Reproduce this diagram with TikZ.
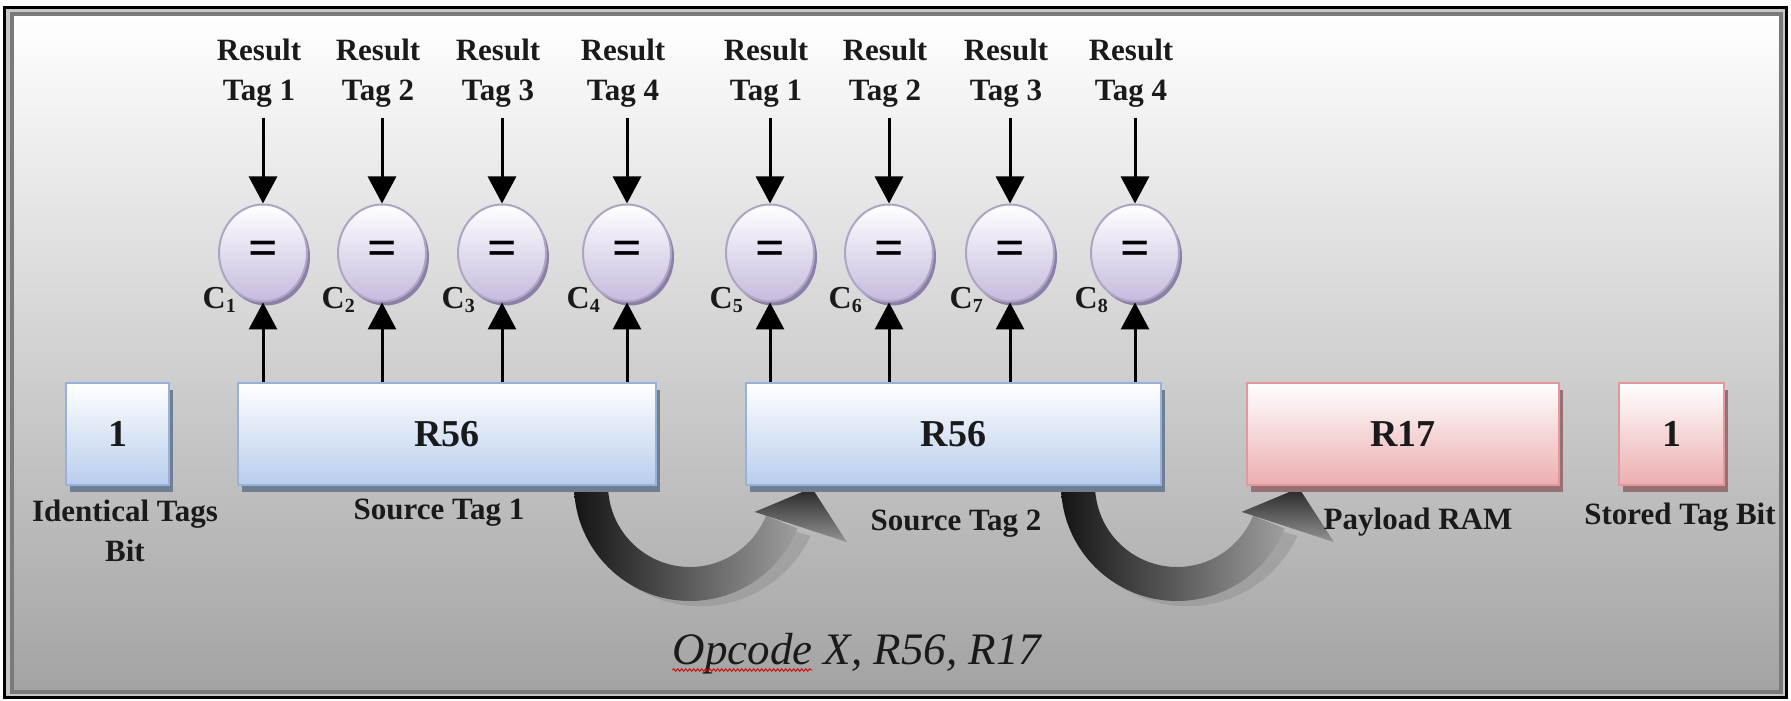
\documentclass[tikz,border=0pt]{standalone}
\usepackage{fontspec}
\setmainfont{Liberation Serif}
\usetikzlibrary{arrows.meta,shapes.geometric,decorations.pathmorphing,shadows}

% register boxes
\definecolor{boxblue}{RGB}{184,205,236}
\definecolor{boxblueedge}{RGB}{150,177,218}
\definecolor{boxblueshadow}{RGB}{112,126,146}
\definecolor{boxpink}{RGB}{236,174,176}
\definecolor{boxpinkedge}{RGB}{226,152,156}
\definecolor{boxpinkshadow}{RGB}{150,112,114}
% comparators
\definecolor{cmpfill}{RGB}{198,186,222}
\definecolor{cmpedge}{RGB}{174,164,196}
\definecolor{cmpshadow}{RGB}{140,126,166}
\definecolor{inktext}{RGB}{26,26,26}

\newcommand\dgTag{\fontsize{31}{40}\selectfont\bfseries}
\newcommand\dgReg{\fontsize{38}{44}\selectfont\bfseries}
\newcommand\dgEq{\fontsize{52}{52}\selectfont\bfseries}
\newcommand\dgOp{\fontsize{45}{50}\selectfont\itshape}
\newcommand\dgCmp{\fontsize{32}{32}\selectfont\bfseries}
\newcommand\dgSub{\fontsize{20}{20}\selectfont\bfseries}

% thick U-turn arrow under a register, centred at x = #1
\newcommand\dgUturn[1]{%
  \begin{scope}[shift={(#1,216)}]
    % soft lower halo
    \fill[black!45, opacity=0.45]
      (184:112) arc[start angle=184, end angle=335, radius=122]
      -- (335:100) arc[start angle=335, end angle=184, radius=90] -- cycle;
    % band
    \shade[left color=black!92, middle color=black!72, right color=black!38]
      (180:116) arc[start angle=180, end angle=338, radius=116]
      -- (338:82) arc[start angle=338, end angle=180, radius=82] -- cycle;
    % head
    \shade[top color=black!85, bottom color=black!42]
      (340:167) -- (358.6:122) -- (337.4:70) -- cycle;
  \end{scope}}

\tikzset{
  reg/.style={rectangle, inner sep=0pt, line width=2.5pt, minimum height=102pt,
    font=\dgReg, text=inktext},
  bluereg/.style={reg, draw=boxblueedge, top color=white, bottom color=boxblue,
    drop shadow={shadow xshift=4pt, shadow yshift=-7pt, fill=boxblueshadow, opacity=1}},
  pinkreg/.style={reg, draw=boxpinkedge, top color=white, bottom color=boxpink,
    drop shadow={shadow xshift=4pt, shadow yshift=-7pt, fill=boxpinkshadow, opacity=1}},
  cmp/.style={ellipse, minimum width=88pt, minimum height=97pt, inner sep=0pt,
    draw=cmpedge, line width=2pt, top color=white, bottom color=cmpfill,
    drop shadow={shadow xshift=3pt, shadow yshift=-4pt, fill=cmpshadow, opacity=1},
    font=\dgEq, text=black},
  tagtxt/.style={inner sep=0pt, align=center, font=\dgTag, text=inktext},
  cmplbl/.style={inner sep=0pt, font=\dgCmp, text=inktext},
  lbl/.style={inner sep=0pt, font=\dgTag, text=inktext},
  optxt/.style={inner sep=0pt, font=\dgOp, text=inktext},
  dn/.style={line width=3pt, -{Triangle[width=28pt,length=27pt]}},
}

\begin{document}
\begin{tikzpicture}[x=1pt, y=1pt]
\useasboundingbox (0,0) rectangle (1791,701);

% frame and background
\fill[white] (0,0) rectangle (1791,701);
\fill[black!22] (4,3.5) rectangle (1786.5,693);
\shade[top color=white, middle color=black!14, bottom color=black!36] (14,11) rectangle (1779,685);
\draw[black!52, line width=4pt] (12,9) rectangle (1781,687);
\draw[black, line width=3pt] (4,3.5) rectangle (1786.5,693);

% U-turn arrows between registers
\dgUturn{690}
\dgUturn{1177}

% registers
\node[bluereg, minimum width=103pt] (idb) at (117.5,267) {1};
\node[bluereg, minimum width=418pt] (srca) at (447,267) {R56};
\node[bluereg, minimum width=415pt] (srcb) at (953.5,267) {R56};
\node[pinkreg, minimum width=312pt] (pay) at (1403,267) {R17};
\node[pinkreg, minimum width=105pt] (stb) at (1671.5,267) {1};

% register captions
\node[lbl, anchor=north, align=center] (idl) at (125,201) {Identical Tags\\Bit};
\node[lbl, anchor=base] (sal) at (439,181) {Source Tag 1};
\node[lbl, anchor=base] (sbl) at (956,170) {Source Tag 2};
\node[lbl, anchor=base] (pal) at (1418,171) {Payload RAM};
\node[lbl, anchor=base] (stl) at (1680,176) {Stored Tag Bit};

% comparators with result tags
\foreach \x/\n [count=\i] in {263/1,382/2,502/3,627/4,770/1,889/2,1010/3,1135/4} {
  \node[cmp] (eq\i) at (\x,448) {=};
  \node[tagtxt, anchor=north] (rt\i) at (\x-4,662) {Result\\Tag \n};
  \node[cmplbl, anchor=base east] (c\i) at (\x-27,392) {C\raisebox{-4pt}{\dgSub\i}};
  \draw[dn] ([yshift=-10pt]eq\i.north |- rt\i.south) -- (eq\i.north);
}
\foreach \i in {1,...,4} \draw[dn] (eq\i |- srca.north) -- (eq\i.south);
\foreach \i in {5,...,8} \draw[dn] (eq\i |- srcb.north) -- (eq\i.south);

% instruction
\node[optxt, anchor=base] (op) at (857,36) {Opcode X, R56, R17};
\draw[red!85!black, line width=0.9pt, decorate,
  decoration={snake, amplitude=1.3pt, segment length=4pt}]
  ([yshift=-5pt]op.base west) -- ++(140,0);
\end{tikzpicture}
\end{document}
